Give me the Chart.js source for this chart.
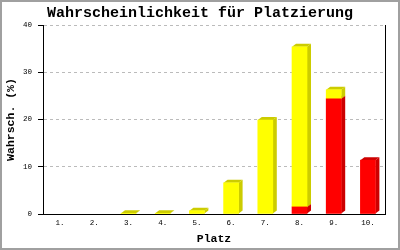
<!DOCTYPE html>
<html>
<head>
<meta charset="utf-8">
<script src="https://cdn.jsdelivr.net/npm/chart.js@4/dist/chart.umd.min.js"></script>
<style>
  body { margin: 0; background: #fff; }
  #wrap { width: 400px; height: 250px; box-sizing: border-box; border: 2px solid #a0a0a0; }
  canvas { display: block; }
</style>
</head>
<body>
<div id="wrap"><canvas id="chart" width="396" height="246"></canvas></div>
<script>
const plaetze = ['1.', '2.', '3.', '4.', '5.', '6.', '7.', '8.', '9.', '10.'];
const werteRot = [0, 0, 0, 0, 0, 0, 0, 1.5, 24.4, 11.4];
const werteGelb = [0, 0, 0.15, 0.15, 0.7, 6.6, 19.9, 33.9, 1.9, 0];
const yTicks = [0, 10, 20, 30, 40];

const MONO = "'Liberation Mono', 'DejaVu Sans Mono', monospace";

// Seiten- und Deckflächen für den 3D-Effekt
const tiefe = {
    id: 'tiefe',
    beforeDatasetsDraw(chart) {
        const ctx = chart.ctx;
        const dx = 4, dy = 3;
        chart.data.datasets.forEach((ds, i) => {
            const meta = chart.getDatasetMeta(i);
            meta.data.forEach((bar, j) => {
                if (!ds.data[j]) return;
                const p = bar.getProps(['x', 'y', 'base', 'width'], true);
                const l = p.x - p.width / 2, r = p.x + p.width / 2;
                ctx.save();
                ctx.fillStyle = ds.sideColor;
                ctx.beginPath();
                ctx.moveTo(r, p.base);
                ctx.lineTo(r + dx, p.base - dy);
                ctx.lineTo(r + dx, p.y - dy);
                ctx.lineTo(r, p.y);
                ctx.closePath();
                ctx.fill();
                ctx.beginPath();
                ctx.moveTo(l, p.y);
                ctx.lineTo(l + dx, p.y - dy);
                ctx.lineTo(r + dx, p.y - dy);
                ctx.lineTo(r, p.y);
                ctx.closePath();
                ctx.fill();
                ctx.restore();
            });
        });
    }
};

const leer = 'rgba(0,0,0,0)';

new Chart(document.getElementById('chart'), {
    type: 'bar',
    data: {
        labels: plaetze,
        datasets: [{
            data: werteRot,
            backgroundColor: c => c.raw ? '#ff0000' : leer,
            sideColor: '#cc0000',
            barThickness: 15
        }, {
            data: werteGelb,
            backgroundColor: c => c.raw ? '#ffff00' : leer,
            sideColor: '#cccc00',
            barThickness: 15
        }]
    },
    options: {
        responsive: false,
        animation: false,
        layout: { padding: 0 },
        plugins: {
            legend: { display: false },
            tooltip: { enabled: false },
            title: {
                display: true,
                text: 'Wahrscheinlichkeit für Platzierung',
                color: '#000',
                font: { family: MONO, size: 15, weight: 'bold' },
                padding: { top: 2, bottom: 3 }
            }
        },
        scales: {
            x: {
                stacked: true,
                grid: { display: false },
                border: { color: '#000' },
                afterFit: s => { s.height = 34; },
                ticks: { color: '#000', font: { family: MONO, size: 7.5 }, padding: -3, maxRotation: 0 },
                title: {
                    display: true, text: 'Platz', color: '#000',
                    font: { family: MONO, size: 11.5, weight: 'bold' },
                    padding: { top: 2, bottom: 2 }
                }
            },
            y: {
                stacked: true,
                min: 0,
                max: 40,
                afterFit: s => { s.width = 41; },
                afterBuildTicks: s => { s.ticks = yTicks.map(v => ({ value: v })); },
                border: { color: '#000', dash: [3, 3] },
                grid: {
                    color: c => c.tick.value === 0 ? leer : '#bbbbbb',
                    tickColor: '#000',
                    tickBorderDash: [],
                    tickLength: 5
                },
                ticks: { color: '#000', font: { family: MONO, size: 7.5 }, padding: 6 },
                title: {
                    display: true, text: 'Wahrsch. (%)', color: '#000',
                    font: { family: MONO, size: 11.5, weight: 'bold' },
                    padding: { top: 2, bottom: 2 }
                }
            },
            // rechte Achsenlinie
            y2: {
                position: 'right',
                min: 0,
                max: 40,
                afterFit: s => { s.width = 13; },
                grid: { display: false },
                ticks: { display: false },
                border: { color: '#000' }
            }
        }
    },
    plugins: [tiefe]
});
</script>
</body>
</html>
